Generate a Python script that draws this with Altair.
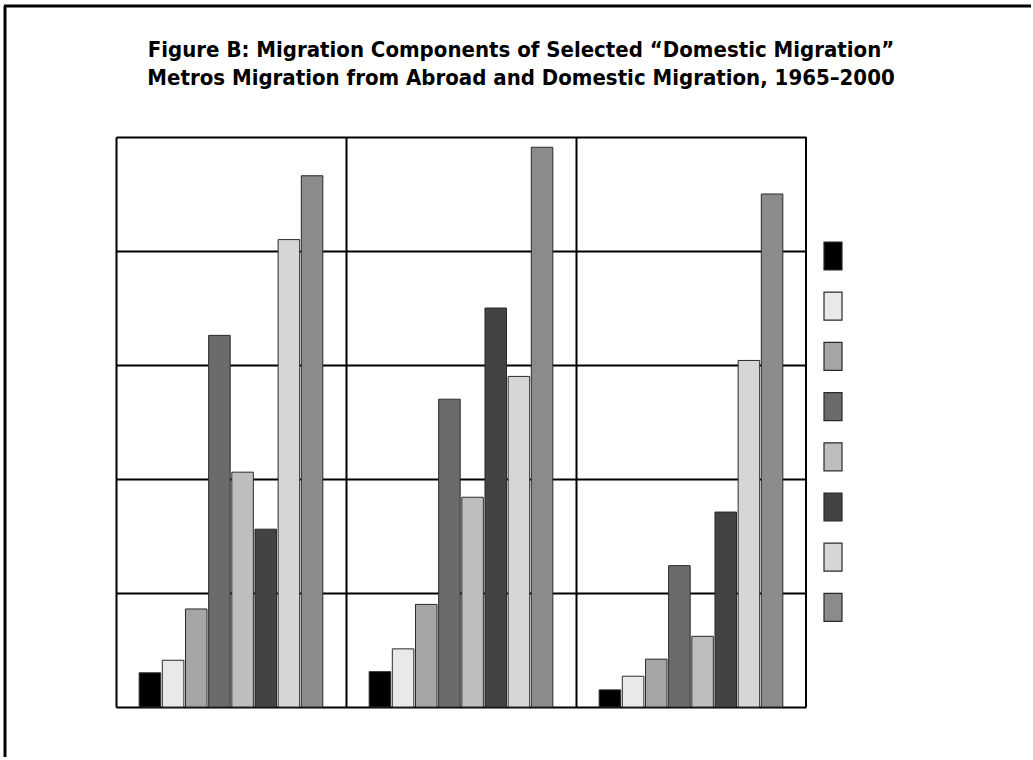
import altair as alt
import pandas as pd

# ---- data ----
panels = ["Metro A", "Metro B", "Metro C"]
series = ["Series 1", "Series 2", "Series 3", "Series 4",
          "Series 5", "Series 6", "Series 7", "Series 8"]
colors = ["#000000", "#e9e9e9", "#a5a5a5", "#6b6b6b",
          "#bebebe", "#434343", "#d6d6d6", "#8b8b8b"]
values_a = [0.30, 0.41, 0.86, 3.26, 2.06, 1.56, 4.10, 4.66]
values_b = [0.31, 0.51, 0.90, 2.70, 1.84, 3.50, 2.90, 4.91]
values_c = [0.15, 0.27, 0.42, 1.24, 0.62, 1.71, 3.04, 4.50]
grid_values = [0, 1, 2, 3, 4, 5]
title_lines = [
    "Figure B: Migration Components of Selected \u201cDomestic Migration\u201d",
    "Metros Migration from Abroad and Domestic Migration, 1965\u20132000",
]

rows = []
for p, vals in zip(panels, [values_a, values_b, values_c]):
    for s, v in zip(series, vals):
        rows.append({"panel": p, "series": s, "value": v})
df = pd.DataFrame(rows)

bars = alt.Chart(df).mark_bar(stroke="#2a2a2a", strokeWidth=1).encode(
    x=alt.X("panel:N", sort=panels,
            scale=alt.Scale(paddingInner=0, paddingOuter=0),
            axis=alt.Axis(grid=True, bandPosition=0, gridColor="black",
                          gridWidth=2, gridOpacity=1, labels=False,
                          ticks=False, domain=False, title=None)),
    xOffset=alt.XOffset("series:N", sort=series,
                        scale=alt.Scale(paddingInner=0.07, paddingOuter=1)),
    y=alt.Y("value:Q",
            scale=alt.Scale(domain=[0, 5], nice=False, zero=True),
            axis=alt.Axis(values=grid_values, grid=True, gridColor="black",
                          gridWidth=2, gridOpacity=1, labels=False, ticks=False,
                          domain=False, title=None)),
    color=alt.Color("series:N", sort=series,
                    scale=alt.Scale(domain=series, range=colors),
                    legend=alt.Legend(orient="none", legendX=702, legendY=104,
                                      direction="vertical", title=None,
                                      labelExpr="''",
                                      symbolType="M-0.643,-1L0.643,-1L0.643,1L-0.643,1Z",
                                      symbolSize=784, symbolStrokeColor="#2a2a2a",
                                      symbolStrokeWidth=1.2, symbolOpacity=1,
                                      rowPadding=16.2, padding=0)),
)

frame_top = alt.Chart(alt.Data(values=[{"k": 1}])).mark_rule(
    color="black", strokeWidth=3
).encode(x=alt.value(-112), x2=alt.value(917), y=alt.value(-131))

frame_left = alt.Chart(alt.Data(values=[{"k": 1}])).mark_rule(
    color="black", strokeWidth=3
).encode(x=alt.value(-111), y=alt.value(-131), y2=alt.value(623))

plot_right = alt.Chart(alt.Data(values=[{"k": 1}])).mark_rule(
    color="black", strokeWidth=2
).encode(x=alt.value(690), y=alt.value(0), y2=alt.value(570))

chart = alt.layer(bars, frame_top, frame_left, plot_right).properties(
    width=690,
    height=570,
    title=alt.TitleParams(text=title_lines, font="DejaVu Sans Condensed",
                          fontSize=22, fontWeight="bold", color="black",
                          anchor="middle", dx=60, offset=0, dy=85,
                          lineHeight=28),
    autosize=alt.AutoSizeParams(type="none"),
    padding={"left": 116, "top": 137, "right": 225, "bottom": 50},
).configure_view(stroke="black", strokeWidth=2).configure(background="white")

chart.save("out.html", embed_options={"renderer": "svg", "actions": False})
